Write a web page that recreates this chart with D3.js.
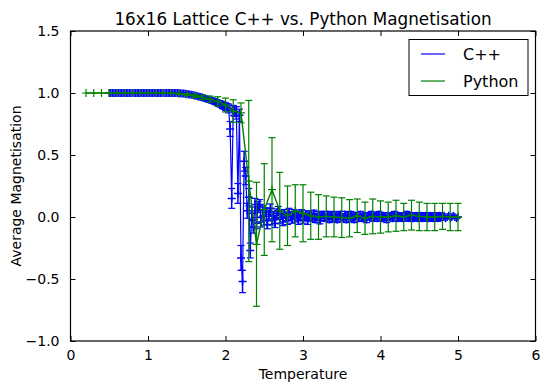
<!DOCTYPE html>
<html>
<head>
<meta charset="utf-8">
<script src="https://cdn.jsdelivr.net/npm/d3@7"></script>
<style>
  body { margin: 0; background: #fff; }
  svg { display: block; font-family: "DejaVu Sans", sans-serif; }
</style>
</head>
<body>
<svg id="chart" width="549" height="391"></svg>
<script>
// Python run: one sample every 0.1 K
const pyTemps = [0.2,0.3,0.4,0.5,0.6,0.7,0.8,0.9,1.0,1.1,1.2,1.3,1.4,1.5,1.6,1.7,1.8,1.9,2.0,
  2.1,2.2,2.3,2.4,2.5,2.6,2.7,2.8,2.9,3.0,3.1,3.2,3.3,3.4,3.5,3.6,3.7,3.8,3.9,4.0,
  4.1,4.2,4.3,4.4,4.5,4.6,4.7,4.8,4.9,5.0];
const pyMag = [1,1,1,1,1,1,1,1,1,1,1,0.998,0.994,0.987,0.978,0.965,0.95,0.933,0.903,
  0.855,0.84,0.29,-0.22,0.06,0.22,0.05,0.01,0.05,0.03,0.01,0,0.005,0,-0.005,-0.01,0.01,-0.01,0.005,0,
  0,0.01,0,0.015,0.005,0,0,0.005,0,0];
const pyErr = [0,0,0,0,0,0,0,0,0,0,0,0.002,0.005,0.008,0.012,0.018,0.025,0.037,0.056,
  0.09,0.08,0.65,0.5,0.37,0.42,0.31,0.24,0.21,0.23,0.19,0.18,0.165,0.16,0.16,0.15,0.135,0.13,0.14,0.13,
  0.12,0.125,0.11,0.12,0.115,0.11,0.11,0.105,0.11,0.11];

// C++ run: 0.5 .. 5.0 in steps of 0.02
const cppStart = 0.5, cppStep = 0.02;
const cppMag = [
  1,1,1,1,1,1,1,1,1,1,1,1,1,1,1,1,1,1,1,1,1,1,1,1,1,1,1,1,1,1,1,1,1,1,1,1,1,1,1,1,1,1,1,1,1,1,
  0.997,0.996,0.995,0.993,0.991,0.99,0.988,0.985,0.983,0.98,0.977,0.974,0.97,0.967,0.963,
  0.96,0.956,0.952,0.948,0.944,0.94,0.935,0.931,0.926,0.92,0.915,0.91,0.903,0.897,0.89,
  0.885,0.875,0.71,0.15,0.86,0.85,0.84,0.19,0.82,-0.33,-0.52,0.45,0.33,0.05,0.16,-0.27,
  0.03,-0.08,0.1,-0.05,0.08,0.1,-0.04,0.05,-0.03,
  0.04,-0.06,0.02,0.07,-0.03,0.01,-0.05,0.03,0.05,-0.02,
  0.02,-0.04,0.03,0,-0.03,0.04,0.01,-0.02,0.03,-0.01,
  0.02,-0.03,0.01,0.03,-0.02,0,0.02,-0.03,0.01,0.02,
  -0.01,0.03,-0.02,0,0.02,-0.03,0.01,0.02,-0.01,0,
  0.02,-0.02,0.01,-0.01,0.02,0,-0.02,0.01,0.02,-0.01,
  0,0.02,-0.02,0.01,-0.01,0.02,0,-0.02,0.01,0.01,
  -0.01,0.02,-0.01,0,0.01,-0.02,0.01,0,0.02,-0.01,
  0,0.01,-0.01,0.02,0,-0.01,0.01,0,-0.02,0.01,
  0,0.01,-0.01,0.02,0,-0.01,0.01,0,-0.01,0.01,
  0,0.02,-0.01,0,0.01,-0.01,0,0.01,-0.01,0,
  0.01,-0.01,0,0.01,0,-0.01,0.01,0,-0.01,0.01,
  0,-0.01,0.01,0,0,0.01,-0.01,0,0.01,-0.01,
  0,0.01,0,-0.01,0
];
const cppErr = [
  0,0,0,0,0,0,0,0,0,0,0,0,0,0,0,0,0,0,0,0,0,0,0,0,0,0,0,0,0,0,0,0,0,0,0,0,0,0,0,0,0,0,0,0,0,0,
  0.002,0.003,0.003,0.004,0.005,0.005,0.006,0.007,0.008,0.008,0.009,0.01,0.011,0.012,0.012,
  0.013,0.014,0.015,0.016,0.017,0.018,0.019,0.02,0.021,0.022,0.024,0.025,0.027,0.028,0.03,
  0.03,0.035,0.06,0.08,0.04,0.04,0.05,0.08,0.05,0.1,0.09,0.08,0.07,0.06,0.07,0.06,
  0.05,0.05,0.05,0.045,0.045,0.04,0.04,0.04,0.035,
  0.035,0.035,0.035,0.035,0.035,0.035,0.035,0.035,0.035,0.035,
  0.03,0.03,0.03,0.03,0.03,0.03,0.03,0.03,0.03,0.03,
  0.03,0.03,0.03,0.03,0.03,0.03,0.03,0.03,0.03,0.03,
  0.025,0.025,0.025,0.025,0.025,0.025,0.025,0.025,0.025,0.025,
  0.025,0.025,0.025,0.025,0.025,0.025,0.025,0.025,0.025,0.025,
  0.025,0.025,0.025,0.025,0.025,0.025,0.025,0.025,0.025,0.025,
  0.025,0.025,0.025,0.025,0.025,0.025,0.025,0.025,0.025,0.025,
  0.025,0.025,0.025,0.025,0.025,0.025,0.025,0.025,0.025,0.025,
  0.025,0.025,0.025,0.025,0.025,0.025,0.025,0.025,0.025,0.025,
  0.025,0.025,0.025,0.025,0.025,0.025,0.025,0.025,0.025,0.025,
  0.025,0.025,0.025,0.025,0.025,0.025,0.025,0.025,0.025,0.025,
  0.025,0.025,0.025,0.025,0.025
];
const cppTemps = cppMag.map((d, i) => +(cppStart + i * cppStep).toFixed(2));

const xTicks = [0, 1, 2, 3, 4, 5, 6];
const yTicks = [-1.0, -0.5, 0.0, 0.5, 1.0, 1.5];
const seriesNames = ["C++", "Python"];
const seriesColors = ["#0000ff", "#008000"];

const svg = d3.select("#chart");
const padL = 70.5, padR = 535.5, padT = 31, padB = 341;

const x = d3.scaleLinear().domain([0, 6]).range([padL, padR]);
const y = d3.scaleLinear().domain([-1, 1.5]).range([padB, padT]);

const plot = svg.append("g");

function drawSeries(temps, mags, errs, color, lw, mw) {
  const pts = temps.map((t, i) => ({ t: t, m: mags[i], e: errs[i] }));
  const g = plot.append("g");
  // error bars + caps
  pts.filter(d => d.e > 0).forEach(d => {
    const cx = x(d.t);
    g.append("line").attr("x1", cx).attr("x2", cx)
      .attr("y1", y(d.m - d.e)).attr("y2", y(d.m + d.e))
      .attr("stroke", color).attr("stroke-width", mw);
    [d.m - d.e, d.m + d.e].forEach(v => {
      g.append("line").attr("x1", cx - 3.5).attr("x2", cx + 3.5)
        .attr("y1", y(v)).attr("y2", y(v))
        .attr("stroke", color).attr("stroke-width", 1.2);
    });
  });
  // line
  g.append("path").datum(pts)
    .attr("d", d3.line().x(d => x(d.t)).y(d => y(d.m)))
    .attr("fill", "none").attr("stroke", color).attr("stroke-width", lw);
  // + markers
  g.selectAll("path.mk").data(pts).join("path")
    .attr("class", "mk")
    .attr("d", d => {
      const cx = x(d.t), cy = y(d.m);
      return `M${cx - 4},${cy}H${cx + 4}M${cx},${cy - 4}V${cy + 4}`;
    })
    .attr("stroke", color).attr("stroke-width", mw);
}

drawSeries(cppTemps, cppMag, cppErr, seriesColors[0], 1.2, 1.5);
drawSeries(pyTemps, pyMag, pyErr, seriesColors[1], 1.4, 1.2);

// frame
svg.append("rect").attr("x", padL).attr("y", padT)
  .attr("width", padR - padL).attr("height", padB - padT)
  .attr("fill", "none").attr("stroke", "#000").attr("stroke-width", 1.2);

// inward ticks on all sides
const axes = [
  d3.axisBottom(x).tickValues(xTicks).tickSizeInner(-5).tickSizeOuter(0).tickPadding(9).tickFormat(d3.format("d")),
  d3.axisTop(x).tickValues(xTicks).tickSizeInner(-5).tickSizeOuter(0).tickFormat(""),
  d3.axisLeft(y).tickValues(yTicks).tickSizeInner(-5).tickSizeOuter(0).tickPadding(11).tickFormat(d => d3.format(".1f")(d).replace("-", "\u2212")),
  d3.axisRight(y).tickValues(yTicks).tickSizeInner(-5).tickSizeOuter(0).tickFormat("")
];
const pos = [`translate(0,${padB})`, `translate(0,${padT})`, `translate(${padL},0)`, `translate(${padR},0)`];
axes.forEach((a, i) => {
  const g = svg.append("g").attr("transform", pos[i]).call(a);
  g.select(".domain").remove();
  g.selectAll("line").attr("stroke", "#000").attr("stroke-width", 1);
  g.selectAll("text").attr("font-family", "DejaVu Sans").attr("font-size", 14).attr("fill", "#000");
});

// title + axis labels
svg.append("text").attr("x", (padL + padR) / 2).attr("y", 25)
  .attr("text-anchor", "middle").attr("font-size", 16.8).text("16x16 Lattice C++ vs. Python Magnetisation");
svg.append("text").attr("x", (padL + padR) / 2).attr("y", 379)
  .attr("text-anchor", "middle").attr("font-size", 14).text("Temperature");
svg.append("text").attr("transform", `translate(21,${(padT + padB) / 2}) rotate(-90)`)
  .attr("text-anchor", "middle").attr("font-size", 14).text("Average Magnetisation");

// legend
const lg = svg.append("g");
lg.append("rect").attr("x", 409).attr("y", 39.5).attr("width", 119).attr("height", 56)
  .attr("fill", "#fff").attr("stroke", "#000").attr("stroke-width", 1);
seriesNames.forEach((name, i) => {
  const ly = 54 + i * 27;
  lg.append("line").attr("x1", 421).attr("x2", 445).attr("y1", ly).attr("y2", ly)
    .attr("stroke", seriesColors[i]).attr("stroke-width", 1.2);
  lg.append("text").attr("x", 463).attr("y", ly + 6).attr("font-size", 16).text(name);
});
</script>
</body>
</html>
